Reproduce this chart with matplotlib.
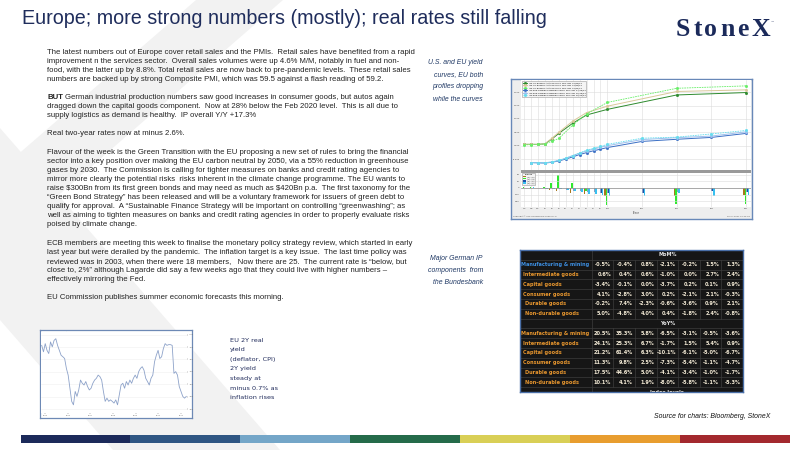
import matplotlib
matplotlib.use("Agg")
import matplotlib.pyplot as plt
from matplotlib.patches import Polygon, Rectangle
import numpy as np

# ---------------- data ----------------
title = "Europe; more strong numbers (mostly); real rates still falling"
logo = "StoneX"

body = [
    "The latest numbers out of Europe cover retail sales and the PMIs.  Retail sales have benefited from a rapid",
    "improvement n the services sector.  Overall sales volumes were up 4.6% M/M, notably in fuel and non-",
    "food, with the latter up by 8.8%. Total retail sales are now back to pre-pandemic levels.  These retail sales",
    "numbers are backed up by strong Composite PMI, which was 59.5 against a flash reading of 59.2.",
    "",
    "BUT German industrial production numbers saw good increases in consumer goods, but autos again",
    "dragged down the capital goods component.  Now at 28% below the Feb 2020 level.  This is all due to",
    "supply logistics as demand is healthy.  IP overall Y/Y +17.3%",
    "",
    "Real two-year rates now at minus 2.6%.",
    "",
    "Flavour of the week is the Green Transition with the EU proposing a new set of rules to bring the financial",
    "sector into a key position over making the EU carbon neutral by 2050, via a 55% reduction in greenhouse",
    "gases by 2030.  The Commission is calling for tighter measures on banks and credit rating agencies to",
    "mirror more clearly the potential risks  risks inherent in the climate change programme. The EU wants to",
    "raise \\$300Bn from its first green bonds and may need as much as \\$420Bn p.a.  The first taxonomy for the",
    "\u201cGreen Bond Strategy\u201d has been released and will be a voluntary framework for issuers of green debt to",
    "qualify for approval.  A \u201cSustainable Finance Strategy will be important on controlling \u201cgreenwashing\u201d; as",
    "well as aiming to tighten measures on banks and credit rating agencies in order to properly evaluate risks",
    "poised by climate change.",
    "",
    "ECB members are meeting this week to finalise the monetary policy strategy review, which started in early",
    "last year but were derailed by the pandemic.  The inflation target is a key issue.  The last time policy was",
    "reviewed was in 2003, when there were 18 members,   Now there are 25.  The current rate is \u201cbelow, but",
    "close to, 2%\u201d although Lagarde did say a few weeks ago that they could live with higher numbers \u2013",
    "effectively mirroring the Fed.",
    "",
    "EU Commission publishes summer economic forecasts this morning.",
]

caption_curves = ["U.S. and EU yield", "curves, EU both", "profiles dropping", "while the curves"]
caption_ip = ["Major German IP", "components  from", "the Bundesbank"]
caption_real = ["EU 2Y real", "yield", "(deflator, CPI)", "2Y yield", "steady at", "minus 0.7% as", "inflation rises"]
source_text = "Source for charts: Bloomberg, StoneX"

# yield curves (%), tenor axis labels
tenor_labels = ["1M", "3M", "6M", "1Y", "2Y", "3Y", "4Y", "5Y", "6Y", "7Y", "8Y", "9Y",
                "10Y", "15Y", "20Y", "25Y", "30Y"]
us_tenors = ["1M", "3M", "6M", "1Y", "2Y", "3Y", "5Y", "7Y", "10Y", "20Y", "30Y"]
us_now = [0.05, 0.05, 0.05, 0.07, 0.25, 0.46, 0.84, 1.15, 1.36, 1.90, 1.99]
us_1w = [0.05, 0.05, 0.05, 0.07, 0.28, 0.50, 0.92, 1.24, 1.48, 2.03, 2.09]
us_1m = [0.03, 0.04, 0.05, 0.06, 0.17, 0.27, 0.77, 1.19, 1.62, 2.15, 2.24]
us_chg_1w = [0, 0, 0, 0, -3, -4, -8, -9, -12, -13, -10]
us_chg_1m = [2, 1, 0, 1, 8, 19, 7, -4, -26, -25, -25]

eu_tenors = ["3M", "6M", "1Y", "2Y", "3Y", "4Y", "5Y", "6Y", "7Y", "8Y", "9Y", "10Y",
             "15Y", "20Y", "25Y", "30Y"]
eu_now = [-0.63, -0.64, -0.65, -0.62, -0.57, -0.50, -0.42, -0.33, -0.26, -0.19, -0.13, -0.07,
          0.16, 0.24, 0.31, 0.46]
eu_1w = [-0.63, -0.64, -0.64, -0.61, -0.55, -0.47, -0.37, -0.28, -0.20, -0.13, -0.06, 0.00,
         0.23, 0.30, 0.36, 0.52]
eu_1m = [-0.64, -0.64, -0.64, -0.61, -0.55, -0.47, -0.37, -0.27, -0.17, -0.10, -0.03, 0.05,
         0.28, 0.32, 0.44, 0.57]
eu_chg_1w = [0, 0, -1, -1, -2, -3, -5, -5, -6, -6, -7, -7, -7, -6, -5, -6]
eu_chg_1m = [1, 0, -1, -1, -2, -3, -5, -6, -9, -9, -10, -12, -12, -8, -13, -11]

curve_legend = [
    "I25 US Treasury Actives Curve  Mid YTM  07/06/21",
    "I25 US Treasury Actives Curve  Mid YTM  06/29/21",
    "I25 US Treasury Actives Curve  Mid YTM  06/04/21",
    "I16 EUR German Sovereign Curve  Mid YTM  07/06/21",
    "I16 EUR German Sovereign Curve  Mid YTM  06/29/21",
    "I16 EUR German Sovereign Curve  Mid YTM  06/04/21",
]
change_legend = ["(1) - (2)", "(1) - (3)", "(4) - (5)", "(4) - (6)"]
curve_yticks = [-0.5, 0.0, 0.5, 1.0, 1.5, 2.0]
change_yticks = [-20, -10, 0, 10, 20]

# German IP table
ip_rows = ["Manufacturing & mining", "Intermediate goods", "Capital goods",
           "Consumer goods", "Durable goods", "Non-durable goods"]
ip_mom = [
    [-0.5, -0.4, 0.8, -2.1, -0.2, 1.5, 1.3],
    [0.6, 0.4, 0.6, -1.0, 0.0, 2.7, 2.4],
    [-3.4, -0.1, 0.0, -3.7, 0.2, 0.1, 0.9],
    [4.1, -2.8, 3.0, 0.2, -2.1, 2.1, -0.3],
    [-0.2, 7.4, -2.3, -0.6, -3.6, 0.9, 2.1],
    [5.0, -4.8, 4.0, 0.4, -1.8, 2.4, -0.8],
]
ip_yoy = [
    [20.5, 35.3, 5.8, -6.5, -3.1, -0.5, -3.6],
    [24.1, 25.3, 6.7, -1.7, 1.5, 5.4, 0.9],
    [21.2, 61.4, 6.3, -10.1, -6.1, -5.0, -6.7],
    [11.3, 9.8, 2.5, -7.3, -5.4, -1.1, -4.7],
    [17.5, 44.6, 5.0, -4.1, -3.4, -1.0, -1.7],
    [10.1, 4.1, 1.9, -8.0, -5.8, -1.1, -5.3],
]

# EU 2Y real yield (%)
real_yield = [-0.93, -1.19, -0.86, -1.13, -1.26, -0.79, -0.99, -0.73, -0.66, -0.93, -1.13, -1.33,
              -1.39, -1.46, -1.86, -2.13, -2.66, -3.19, -3.33, -2.79, -2.99, -2.73, -2.33, -2.46,
              -2.53, -2.39, -2.59, -2.73, -2.66, -2.46, -2.33, -2.26, -2.13, -2.19, -2.33, -2.79,
              -3.19, -3.06, -3.19, -3.13, -3.19, -3.26, -3.13, -3.33, -2.93, -2.53, -2.46, -2.66,
              -2.39, -2.53, -2.33, -2.46, -2.26, -2.13, -2.26, -1.99, -1.86, -1.79, -1.93, -2.26,
              -2.39, -2.53, -2.26, -2.13, -1.59, -1.33, -1.13, -1.46, -1.39, -1.06, -0.86, -0.93,
              -0.90, -0.90, -0.93, -2.06, -1.99, -2.13, -2.59, -2.79, -2.99, -3.06, -2.99]
real_yticks = [-3.5, -3.0, -2.5, -2.0, -1.5, -1.0, -0.5]
real_xlabels = ["2015", "2016", "2017", "2018", "2019", "2020", "2021"]

bar_colors = ["#1c2a5a", "#2f5683", "#74a6c8", "#256b4a", "#d9cf56", "#e89d2f", "#a3292e"]

# ---------------- figure ----------------
W, H = 800, 450
fig = plt.figure(figsize=(8, 4.5), dpi=100)
fig.patch.set_facecolor("white")
bg = fig.add_axes([0, 0, 1, 1])
bg.set_xlim(0, W)
bg.set_ylim(H, 0)
bg.axis("off")
renderer = fig.canvas.get_renderer()


def pax(x0, y0, x1, y1, **kw):
    return fig.add_axes([x0 / W, 1 - y1 / H, (x1 - x0) / W, (y1 - y0) / H], **kw)


def text_width(s, size, **kw):
    t = bg.text(0, 0, s, fontsize=size, **kw)
    w = t.get_window_extent(renderer=renderer).width
    t.remove()
    return w


def fit(s, width, **kw):
    return 10.0 * width / text_width(s, 10.0, **kw)


# background chevron
grey = "#f2f2f2"
bg.add_patch(Polygon([(196, 0), (283, 0), (0, 246), (0, 170)], closed=True, fc=grey, ec="none", zorder=0))
bg.add_patch(Polygon([(0, 128), (280, 450), (113, 450), (0, 320)], closed=True, fc=grey, ec="none", zorder=0))

# title + logo
navy = "#1f2d5c"
fs_title = fit(title, 526, family="Liberation Sans")
bg.text(22, 18, title, fontsize=fs_title, family="Liberation Sans", color=navy, va="center", ha="left")

logo_font = dict(family="Liberation Serif", weight="bold", color="#1b2a5a")
fs_logo = 18.5
widths = [text_width(c, fs_logo, **logo_font) for c in logo]
track = (94 - sum(widths)) / (len(logo) - 1)
x = 676
for c, w in zip(logo, widths):
    bg.text(x, 29, c, fontsize=fs_logo, va="center", ha="left", **logo_font)
    x += w + track
bg.text(x - track + 1.0, 21, "\u2122", fontsize=2.5, color="#1b2a5a", va="center", ha="left")

# body text
body_font = dict(family="Liberation Sans", color="#222222")
fs_body = fit(body[11], 362, **body_font)
for i, line in enumerate(body):
    if not line:
        continue
    y = 52 + 9.1 * i
    x = 47
    if line.startswith("BUT "):
        bg.text(x, y, "BUT", fontsize=fs_body, weight="bold", va="center", ha="left", **body_font)
        x += text_width("BUT ", fs_body, weight="bold", **body_font)
        line = line[4:]
    bg.text(x, y, line, fontsize=fs_body, va="center", ha="left", **body_font)

# captions
cap_font = dict(family="Liberation Sans", style="italic", color="#1f3864")
fs_cap = fit(caption_curves[0], 54, **cap_font)
for i, s in enumerate(caption_curves):
    bg.text(483, 62 + 12.5 * i, s, fontsize=fs_cap, va="center", ha="right", **cap_font)
for i, s in enumerate(caption_ip):
    bg.text(483, 258 + 12.5 * i, s, fontsize=fs_cap, va="center", ha="right", **cap_font)

real_font = dict(family="DejaVu Sans", color="#1f2a5a")
fs_real = fit(caption_real[2], 45, **real_font)
for i, s in enumerate(caption_real):
    bg.text(230, 340 + 9.6 * i, s, fontsize=fs_real, va="center", ha="left", **real_font)

src_font = dict(family="Liberation Sans", style="italic", color="#111111")
bg.text(770, 416, source_text, fontsize=fit(source_text, 117, **src_font), va="center", ha="right", **src_font)

# bottom colour bar
edges = np.linspace(20.5, 790.3, len(bar_colors) + 1)
for c, x0, x1 in zip(bar_colors, edges[:-1], edges[1:]):
    bg.add_patch(Rectangle((x0, 435.4), x1 - x0, 7.2, fc=c, ec="none", zorder=2))

# ---------------- yield curve chart (upper right) ----------------
frame = pax(511, 79, 752, 219)
frame.set_facecolor("#eeeeee")
frame.set_xticks([])
frame.set_yticks([])
for sp in frame.spines.values():
    sp.set_color("#6888b8")
    sp.set_linewidth(1.0)
frame.text(0.01, 0.015, "Copyright\u00a9 2021 Bloomberg Finance L.P.", fontsize=1.5, color="#555",
           transform=frame.transAxes, va="bottom")
frame.text(0.99, 0.015, "06-Jul-2021 10:44:18", fontsize=1.5, color="#555",
           transform=frame.transAxes, va="bottom", ha="right")


def tpos(label):
    i = tenor_labels.index(label)
    return i if i <= 12 else 12 + 5 * (i - 12)


tick_pos = [tpos(t) for t in tenor_labels]
us_x = [tpos(t) for t in us_tenors]
eu_x = [tpos(t) for t in eu_tenors]

ax1 = pax(521, 80, 751, 170)
ax1.set_facecolor("white")
ax1.set_xlim(-0.45, 32.7)
ax1.set_ylim(-0.91, 2.46)
ax1.set_xticks(tick_pos)
ax1.set_xticklabels([])
ax1.set_yticks(curve_yticks)
ax1.set_yticklabels([f"{v:.3f}" for v in curve_yticks])
ax1.tick_params(labelsize=1.6, length=0, pad=1, colors="#444")
ax1.grid(True, color="#dcdcdc", lw=0.4)
for sp in ax1.spines.values():
    sp.set_visible(False)
l1, = ax1.plot(us_x, us_now, color="#2e8b2e", lw=0.7, marker="s", ms=1.0)
l2, = ax1.plot(us_x, us_1w, color="#d8c89a", lw=0.7, marker="s", ms=1.0)
l3, = ax1.plot(us_x, us_1m, color="#66ee66", lw=0.6, ls=(0, (2, 1)), marker="s", ms=1.0)
l4, = ax1.plot(eu_x, eu_now, color="#3b6fc4", lw=0.7, marker="s", ms=1.0)
l5, = ax1.plot(eu_x, eu_1w, color="#9fc0ee", lw=0.7, marker="s", ms=1.0)
l6, = ax1.plot(eu_x, eu_1m, color="#66ddee", lw=0.6, ls=(0, (2, 1)), marker="s", ms=1.0)
leg = ax1.legend([l1, l2, l3, l4, l5, l6], curve_legend, loc="upper left", fontsize=1.5,
                 handlelength=2, borderpad=0.4, labelspacing=0.25, fancybox=False,
                 edgecolor="#999999", framealpha=1, facecolor="#f4f4f4")
leg.get_frame().set_linewidth(0.4)

sep = pax(521, 170, 751, 172.5)
sep.set_facecolor("#9a9a9a")
sep.set_xticks([])
sep.set_yticks([])
for sp in sep.spines.values():
    sp.set_visible(False)

ax2 = pax(521, 172.5, 751, 207)
ax2.set_facecolor("white")
ax2.set_xlim(-0.45, 32.7)
ax2.set_ylim(-29, 23.5)
ax2.set_xticks(tick_pos)
ax2.set_xticklabels(tenor_labels)
ax2.set_yticks(change_yticks)
ax2.tick_params(labelsize=1.6, length=0, pad=1, colors="#444")
ax2.grid(True, color="#dcdcdc", lw=0.4)
for sp in ax2.spines.values():
    sp.set_visible(False)
bw = 0.22
b1 = ax2.bar(np.array(us_x) - 1.5 * bw, us_chg_1w, width=bw, color="#a8781e")
b2 = ax2.bar(np.array(us_x) - 0.5 * bw, us_chg_1m, width=bw, color="#2ee82e")
b3 = ax2.bar(np.array(eu_x) + 0.5 * bw, eu_chg_1w, width=bw, color="#1e50a8")
b4 = ax2.bar(np.array(eu_x) + 1.5 * bw, eu_chg_1m, width=bw, color="#38c0f0")
ax2.axhline(0, color="#777", lw=0.4)
leg2 = ax2.legend([b1, b2, b3, b4], change_legend, title="Change", loc="upper left", fontsize=1.4,
                  title_fontsize=1.5, handlelength=1.5, borderpad=0.4, labelspacing=0.2,
                  fancybox=False, edgecolor="#999999", framealpha=1, facecolor="#f4f4f4")
leg2.get_frame().set_linewidth(0.4)
frame.text(0.516, 0.045, "Tenor", fontsize=1.8, color="#444", transform=frame.transAxes,
           ha="center", va="center")

# ---------------- German IP table ----------------
tx0, tx1, ty0, ty1 = 520, 743, 250, 392
tab = pax(tx0, ty0, tx1, ty1)
tab.set_xlim(tx0, tx1)
tab.set_ylim(ty1, ty0)
tab.set_facecolor("#161616")
tab.set_xticks([])
tab.set_yticks([])
for sp in tab.spines.values():
    sp.set_color("#4a6fa8")
    sp.set_linewidth(1.0)

rh = 9.8
col0 = 591.7
cw = (tx1 - col0) / 7
tab_font = dict(family="DejaVu Sans", weight="bold")
fs_tab = fit(ip_rows[0], 68, **tab_font)
indent = [1.0, 3.0, 3.0, 3.0, 5.0, 5.0]
sections = [("MoM%", ip_mom), ("YoY%", ip_yoy), ("Index levels", None)]
r = 0
for si, (head, vals) in enumerate(sections):
    yc = ty0 + rh * (r + 0.5)
    tab.text((col0 + tx1) / 2, yc, head, fontsize=fs_tab, color="#e6e6e6", ha="center", va="center",
             clip_on=True, **tab_font)
    r += 1
    tab.axhline(ty0 + rh * r, color="#3c3c3c", lw=0.5)
    if vals is None:
        continue
    for ri, name in enumerate(ip_rows):
        yc = ty0 + rh * (r + 0.5)
        lab_col = "#3d8ee0" if (si == 0 and ri == 0) else "#e8962e"
        tab.text(tx0 + indent[ri], yc, name, fontsize=fs_tab, color=lab_col, ha="left", va="center",
                 clip_on=True, **tab_font)
        for ci, v in enumerate(vals[ri]):
            tab.text(col0 + cw * (ci + 1) - 2.3, yc, f"{v:.1f}%", fontsize=fs_tab, color="#f5ecd7",
                     ha="right", va="center", clip_on=True, **tab_font)
        for ci in range(1, 7):
            xv = col0 + cw * ci
            tab.plot([xv, xv], [ty0 + rh * r, ty0 + rh * (r + 1)], color="#3c3c3c", lw=0.5)
        r += 1
        tab.axhline(ty0 + rh * r, color="#3c3c3c", lw=0.5)
tab.axvline(col0, color="#3c3c3c", lw=0.5)

# ---------------- EU 2Y real yield (bottom left) ----------------
rf = pax(40, 330, 192, 418)
rf.set_facecolor("white")
rf.set_xticks([])
rf.set_yticks([])
for sp in rf.spines.values():
    sp.set_color("#6d89b5")
    sp.set_linewidth(0.9)
rf.text(0.01, 0.985, "EUR 2Y Real Yield (CPI deflator)", fontsize=1.3, color="#888", transform=rf.transAxes,
        va="top")

ra = pax(41, 332, 187, 413)
ra.set_facecolor("white")
ra.plot(np.arange(len(real_yield)), real_yield, color="#8da2c9", lw=0.6)
ra.set_xlim(-0.4, len(real_yield) - 0.6)
ra.set_ylim(-3.66, -0.39)
ra.yaxis.tick_right()
ra.set_yticks(real_yticks)
ra.set_yticklabels([f"{v:.2f}" for v in real_yticks])
xt = np.linspace(2, len(real_yield) - 4, len(real_xlabels))
ra.set_xticks(xt)
ra.set_xticklabels(real_xlabels)
ra.tick_params(labelsize=1.4, length=1, width=0.3, pad=0.6, colors="#666")
ra.grid(True, axis="y", color="#f0f0f0", lw=0.4)
for sp in ra.spines.values():
    sp.set_visible(False)

fig.savefig("out.png", dpi=100, facecolor="white")
